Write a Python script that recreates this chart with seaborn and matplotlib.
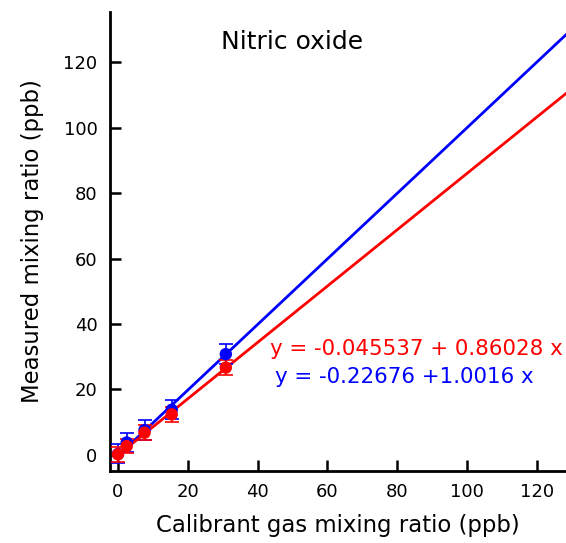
import numpy as np
import pandas as pd
import matplotlib
matplotlib.use("Agg")
import matplotlib.pyplot as plt
import seaborn as sns

# calibration points (ppb)
calibrant = [0.0, 2.5, 7.6, 15.4, 30.9]
measured_red = [0.2, 2.7, 6.8, 12.4, 26.7]
err_red = [2.2, 2.2, 2.2, 2.2, 2.2]
measured_blue = [0.3, 3.8, 7.6, 13.8, 30.8]
err_blue = [2.9, 3.0, 3.0, 2.9, 3.1]

# fit coefficients shown on the chart
fit_red = (-0.045537, 0.86028)
fit_blue = (-0.22676, 1.0016)
fit_x = [0.0, 135.0]

RED = "#ff0000"
BLUE = "#0000ff"

sns.set_style("ticks")
plt.rcParams["font.family"] = ["DejaVu Sans"]
plt.rcParams["text.color"] = "black"
plt.rcParams["axes.labelcolor"] = "black"

fig = plt.figure(figsize=(5.66, 5.43), dpi=100)
ax = fig.add_axes([0.1943, 0.1326, 0.8057, 0.8452])

pts = pd.DataFrame({"x": calibrant * 2,
                    "y": measured_red + measured_blue,
                    "err": err_red + err_blue,
                    "set": ["red"] * 5 + ["blue"] * 5})
fx = np.array(fit_x)
lines = pd.DataFrame({"x": np.concatenate([fx, fx]),
                      "y": np.concatenate([fit_blue[0] + fit_blue[1] * fx,
                                           fit_red[0] + fit_red[1] * fx]),
                      "set": ["blue"] * 2 + ["red"] * 2})

pal = {"red": RED, "blue": BLUE}
sns.lineplot(data=lines, x="x", y="y", hue="set", palette=pal, lw=2,
             legend=False, ax=ax, zorder=2)
for name in ["blue", "red"]:
    d = pts[pts["set"] == name]
    ax.errorbar(d["x"], d["y"], yerr=d["err"], fmt="none", ecolor=pal[name],
                elinewidth=1.2, capsize=5, capthick=1.2, zorder=3)
sns.scatterplot(data=pts.iloc[::-1], x="x", y="y", hue="set", palette=pal,
                s=80, edgecolor="none", legend=False, ax=ax, zorder=4)

ax.set_xlim(-2.3, 128.4)
ax.set_ylim(-4.9, 135.3)
ax.set_xticks(range(0, 121, 20))
ax.set_yticks(range(0, 121, 20))
ax.tick_params(direction="in", length=8, width=1.8, labelsize=13,
               pad=9, color="black", labelcolor="black")
for side in ["top", "right"]:
    ax.spines[side].set_visible(False)
for side in ["left", "bottom"]:
    ax.spines[side].set_linewidth(2)
    ax.spines[side].set_color("black")

ax.set_xlabel("Calibrant gas mixing ratio (ppb)", fontsize=16.4, labelpad=9)
ax.set_ylabel("Measured mixing ratio (ppb)", fontsize=16.4, labelpad=14)

ax.text(0.40, 0.935, "Nitric oxide", transform=ax.transAxes, fontsize=18,
        ha="center", va="center")
ax.text(0.993, 0.266, "y = -0.045537 + 0.86028 x", transform=ax.transAxes,
        color=RED, fontsize=15.4, ha="right", va="center")
ax.text(0.928, 0.205, "y = -0.22676 +1.0016 x", transform=ax.transAxes,
        color=BLUE, fontsize=15.4, ha="right", va="center")

fig.savefig("out.png", dpi=100)
